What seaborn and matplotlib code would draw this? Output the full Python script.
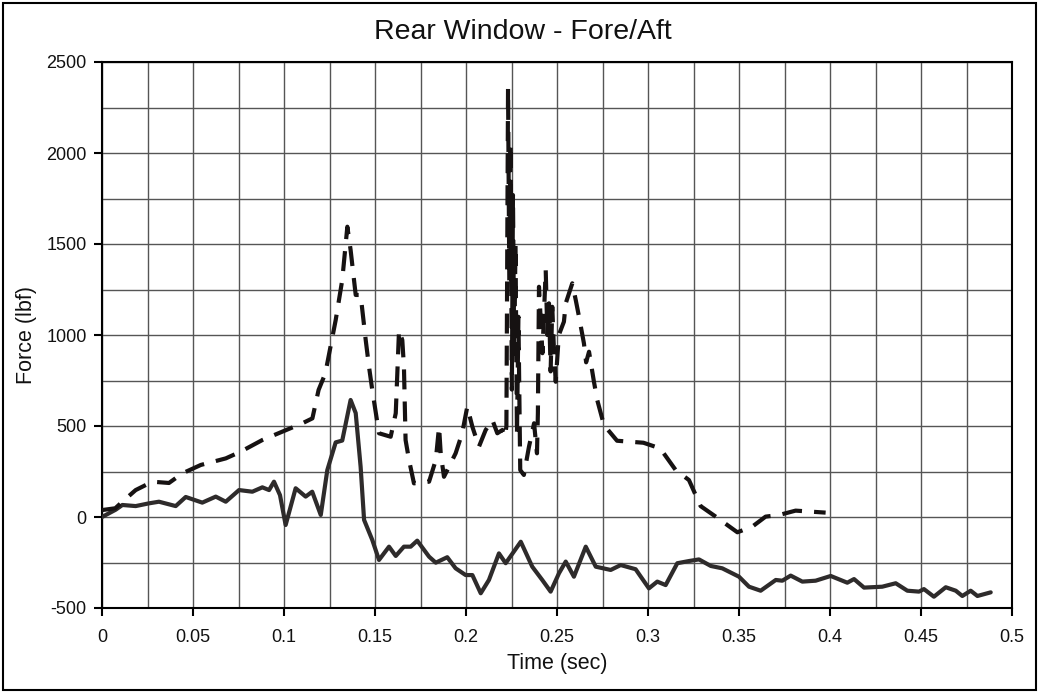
import matplotlib
matplotlib.use("Agg")
import matplotlib.pyplot as plt
from matplotlib.patches import Rectangle
from matplotlib.ticker import MultipleLocator
import seaborn as sns

# ---------------- data ----------------
time_solid = [0.000, 0.0075, 0.0112, 0.0185, 0.0258, 0.0313, 0.0405, 0.0460, 0.0551, 0.0625,
              0.0680, 0.0753, 0.0826, 0.0881, 0.0918, 0.0945, 0.0978, 0.1009, 0.1064, 0.1119,
              0.1155, 0.1202, 0.1238, 0.1284, 0.1320, 0.1366, 0.1394, 0.1421, 0.1440, 0.1485,
              0.1522, 0.1577, 0.1614, 0.1659, 0.1696, 0.1732, 0.1797, 0.1834, 0.1897, 0.1943,
              0.1998, 0.2035, 0.2081, 0.2126, 0.2181, 0.2218, 0.2301, 0.2364, 0.2419, 0.2465,
              0.2511, 0.2548, 0.2593, 0.2658, 0.2713, 0.2795, 0.2850, 0.2932, 0.3005, 0.3051,
              0.3097, 0.3161, 0.3225, 0.3280, 0.3345, 0.3408, 0.3500, 0.3555, 0.3619, 0.3702,
              0.3738, 0.3784, 0.3848, 0.3921, 0.4004, 0.4095, 0.4132, 0.4187, 0.4287, 0.4361,
              0.4425, 0.4489, 0.4516, 0.4571, 0.4636, 0.4691, 0.4727, 0.4773, 0.4810, 0.4883]
force_solid = [0, 40, 66, 60, 75, 84, 60, 110, 79, 112,
               84, 148, 139, 163, 148, 194, 120, -44, 158, 112,
               139, 11, 258, 410, 420, 643, 571, 276, -16, -126,
               -236, -163, -214, -163, -163, -130, -218, -251, -221, -282,
               -319, -319, -419, -346, -200, -254, -136, -273, -346, -410,
               -309, -245, -328, -163, -273, -291, -264, -287, -392, -355,
               -374, -254, -242, -233, -269, -282, -328, -383, -405, -346,
               -350, -322, -355, -350, -324, -361, -341, -388, -383, -364,
               -405, -410, -396, -438, -386, -405, -434, -405, -434, -414]

time_dashed = [0.000, 0.0073, 0.0112, 0.0185, 0.0277, 0.0368, 0.0442, 0.0543, 0.0680, 0.0762,
               0.0881, 0.0991, 0.1101, 0.1156, 0.1190, 0.1227, 0.1284, 0.1320, 0.1348, 0.1366,
               0.1394, 0.1421, 0.1449, 0.1467, 0.1485, 0.1522, 0.1586, 0.1614, 0.1632, 0.1650,
               0.1659, 0.1668, 0.1687, 0.1714, 0.1797, 0.1834, 0.1852, 0.1861, 0.1879, 0.1943,
               0.1979, 0.2007, 0.2035, 0.2071, 0.2108, 0.2145, 0.2172, 0.2200, 0.2215, 0.2222,
               0.2231, 0.2238, 0.2245, 0.2252, 0.2258, 0.2265, 0.2272, 0.2280, 0.2288, 0.2298,
               0.2318, 0.2346, 0.2374, 0.2390, 0.2395, 0.2401, 0.2420, 0.2438, 0.2447, 0.2456,
               0.2465, 0.2474, 0.2484, 0.2493, 0.2510, 0.2538, 0.2548, 0.2584, 0.2603, 0.2621,
               0.2648, 0.2660, 0.2676, 0.2703, 0.2721, 0.2758, 0.2830, 0.2975, 0.3067, 0.3152,
               0.3225, 0.3289, 0.3372, 0.3491, 0.3573, 0.3646, 0.3720, 0.3811, 0.3976]
force_dashed = [38, 48, 84, 148, 194, 187, 240, 286, 322, 359,
                423, 469, 515, 542, 698, 789, 1082, 1302, 1595, 1467,
                1220, 1220, 972, 826, 698, 460, 441, 570, 1027, 972,
                826, 423, 313, 185, 194, 313, 496, 350, 221, 350,
                460, 606, 496, 386, 478, 533, 460, 478, 441, 500,
                2355, 1300, 2050, 700, 1769, 900, 1500, 450, 1100, 258,
                231, 386, 515, 350, 571, 1265, 900, 1357, 1000, 1174,
                800, 1155, 900, 743, 1000, 1073, 1174, 1284, 1192, 1100,
                954, 850, 908, 743, 643, 505, 419, 408, 377, 258,
                203, 60, 2, -84, -53, 2, 11, 35, 24]

title_text = "Rear Window - Fore/Aft"
x_label = "Time (sec)"
y_label = "Force (lbf)"
x_ticks = [0, 0.05, 0.1, 0.15, 0.2, 0.25, 0.3, 0.35, 0.4, 0.45, 0.5]
x_tick_labels = ["0", "0.05", "0.1", "0.15", "0.2", "0.25", "0.3", "0.35", "0.4", "0.45", "0.5"]
y_ticks = [-500, 0, 500, 1000, 1500, 2000, 2500]
y_tick_labels = ["-500", "0", "500", "1000", "1500", "2000", "2500"]

# ---------------- styling ----------------
sns.set_theme(style="white")
plt.rcParams["font.family"] = ["Liberation Sans", "DejaVu Sans"]
plt.rcParams["axes.unicode_minus"] = False

W, H = 1041, 696
fig = plt.figure(figsize=(W / 100, H / 100), dpi=100)
fig.patch.set_facecolor("white")

L, R, T, B = 102, 1012, 62, 608
ax = fig.add_axes([L / W, (H - B) / H, (R - L) / W, (B - T) / H])
ax.set_facecolor("white")

sns.lineplot(x=time_solid, y=force_solid, ax=ax, color="#2e2b2b", lw=3.0,
             estimator=None, errorbar=None, sort=False, zorder=3)
sns.lineplot(x=time_dashed, y=force_dashed, ax=ax, color="#161212", lw=3.0,
             estimator=None, errorbar=None, sort=False, zorder=4,
             linestyle=(0, (4.8, 2.9)))

ax.set_xlim(0, 0.5)
ax.set_ylim(-500, 2500)
ax.set_xticks(x_ticks)
ax.set_xticklabels(x_tick_labels)
ax.set_yticks(y_ticks)
ax.set_yticklabels(y_tick_labels)
ax.xaxis.set_minor_locator(MultipleLocator(0.025))
ax.yaxis.set_minor_locator(MultipleLocator(250))

ax.grid(True, which="both", color="#555555", lw=1.0)
ax.set_axisbelow(True)

ax.tick_params(axis="both", which="major", direction="out", length=6, width=1.5,
               color="black", labelsize=13, labelcolor="#111111", bottom=True, left=True)
ax.tick_params(axis="x", which="major", pad=9)
ax.tick_params(axis="y", which="major", pad=5)
ax.tick_params(axis="both", which="minor", length=0)

for s in ax.spines.values():
    s.set_color("black")
    s.set_linewidth(1.5)

ax.set_xlabel(x_label, fontsize=15.5, color="#111111", va="center")
ax.xaxis.set_label_coords(0.5, (B - 663) / (B - T))
ax.set_ylabel(y_label, fontsize=15.5, color="#111111", va="center")
ax.yaxis.set_label_coords((27 - L) / (R - L), 0.5)

fig.text(522.5 / W, 1 - 32 / H, title_text, ha="center", va="center",
         fontsize=20.5, color="#111111")

fig.patches.append(Rectangle((3 / W, 6 / H), 1033 / W, 687 / H, transform=fig.transFigure,
                             fill=False, edgecolor="black", lw=1.5, zorder=10))

fig.savefig("out.png", dpi=100, facecolor="white")
